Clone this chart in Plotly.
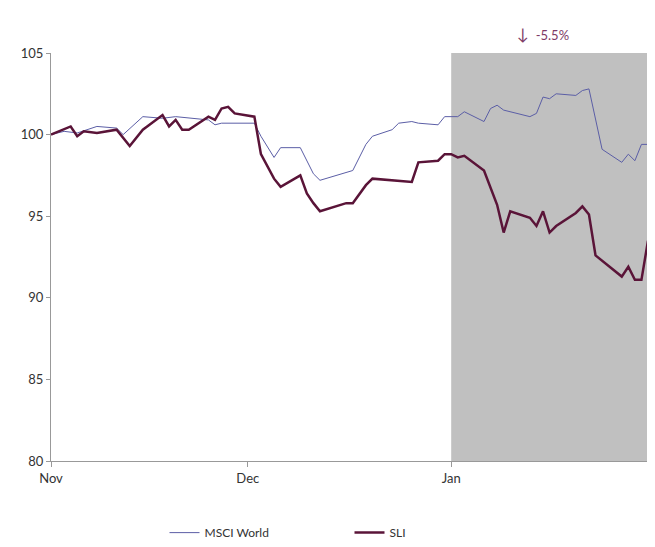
import plotly.graph_objects as go

# MSCI World (rebased to 100)
msci_dates = ['2013-11-01', '2013-11-03', '2013-11-05', '2013-11-08', '2013-11-11', '2013-11-12',
              '2013-11-15', '2013-11-18', '2013-11-20', '2013-11-25', '2013-11-26', '2013-11-27',
              '2013-12-02', '2013-12-03', '2013-12-05', '2013-12-06', '2013-12-09', '2013-12-11',
              '2013-12-12', '2013-12-16', '2013-12-17', '2013-12-19', '2013-12-20', '2013-12-23',
              '2013-12-24', '2013-12-26', '2013-12-27', '2013-12-30', '2013-12-31', '2014-01-02',
              '2014-01-03', '2014-01-06', '2014-01-07', '2014-01-08', '2014-01-09', '2014-01-13',
              '2014-01-14', '2014-01-15', '2014-01-16', '2014-01-17', '2014-01-20', '2014-01-21',
              '2014-01-22', '2014-01-24', '2014-01-27', '2014-01-28', '2014-01-29', '2014-01-30',
              '2014-01-31']
msci_vals = [100.0, 100.2, 100.1, 100.5, 100.4, 100.0,
             101.1, 101.0, 101.1, 100.9, 100.6, 100.7,
             100.7, 99.9, 98.6, 99.2, 99.2, 97.6,
             97.2, 97.7, 97.8, 99.4, 99.9, 100.3,
             100.7, 100.8, 100.7, 100.6, 101.1, 101.1,
             101.4, 100.8, 101.6, 101.8, 101.5, 101.1,
             101.3, 102.3, 102.2, 102.5, 102.4, 102.7,
             102.8, 99.1, 98.3, 98.8, 98.4, 99.4,
             99.4]

# SLI (rebased to 100)
sli_dates = ['2013-11-01', '2013-11-04', '2013-11-05', '2013-11-06', '2013-11-08', '2013-11-11',
             '2013-11-13', '2013-11-15', '2013-11-18', '2013-11-19', '2013-11-20', '2013-11-21',
             '2013-11-22', '2013-11-25', '2013-11-26', '2013-11-27', '2013-11-28', '2013-11-29',
             '2013-12-02', '2013-12-03', '2013-12-05', '2013-12-06', '2013-12-09', '2013-12-10',
             '2013-12-11', '2013-12-12', '2013-12-16', '2013-12-17', '2013-12-19', '2013-12-20',
             '2013-12-26', '2013-12-27', '2013-12-30', '2013-12-31', '2014-01-01', '2014-01-02',
             '2014-01-03', '2014-01-06', '2014-01-08', '2014-01-09', '2014-01-10', '2014-01-13',
             '2014-01-14', '2014-01-15', '2014-01-16', '2014-01-17', '2014-01-20', '2014-01-21',
             '2014-01-22', '2014-01-23', '2014-01-27', '2014-01-28', '2014-01-29', '2014-01-30',
             '2014-01-31']
sli_vals = [100.0, 100.5, 99.9, 100.2, 100.1, 100.3,
            99.3, 100.3, 101.2, 100.5, 100.9, 100.3,
            100.3, 101.1, 100.9, 101.6, 101.7, 101.3,
            101.1, 98.8, 97.3, 96.8, 97.5, 96.4,
            95.8, 95.3, 95.8, 95.8, 96.9, 97.3,
            97.1, 98.3, 98.4, 98.8, 98.8, 98.6,
            98.7, 97.8, 95.7, 94.0, 95.3, 94.9,
            94.4, 95.3, 94.0, 94.4, 95.2, 95.6,
            95.1, 92.6, 91.3, 91.9, 91.1, 91.1,
            93.5]

tick_dates = ['2013-11-01', '2013-12-01', '2014-01-01']
tick_labels = ['Nov', 'Dec', 'Jan']

fig = go.Figure()

# grey box for January
fig.add_vrect(x0='2014-01-01', x1='2014-01-31', fillcolor='#c0c0c0', opacity=1,
              line_width=0, layer='below')

fig.add_trace(go.Scatter(x=msci_dates, y=msci_vals, mode='lines', name='MSCI World',
                         line=dict(color='#5b5ea6', width=1)))
fig.add_trace(go.Scatter(x=sli_dates, y=sli_vals, mode='lines', name='SLI',
                         line=dict(color='#5a1438', width=2.5)))

fig.add_annotation(x='2014-01-15', y=1.075, yref='paper', xref='x', showarrow=False,
                   text='<span style="font-size:16px">&#8595;</span>  -5.5%',
                   font=dict(color='#7d3a66', size=13, family='Lato'), xanchor='center')

fig.update_layout(
    width=655, height=547,
    margin=dict(l=43, r=15, t=45, b=94, autoexpand=False),
    plot_bgcolor='white', paper_bgcolor='white',
    font=dict(family='Lato', size=13, color='#333333'),
    showlegend=True,
    legend=dict(orientation='h', x=0.5, xanchor='center', y=-0.14, yanchor='top',
                font=dict(size=12), entrywidthmode='pixels', entrywidth=140),
    xaxis=dict(range=['2013-11-01', '2014-01-31'], tickvals=tick_dates, ticktext=tick_labels,
               showgrid=False, showline=True, linecolor='#999999', ticks='outside',
               ticklen=5, tickcolor='#999999', zeroline=False, automargin=False),
    yaxis=dict(range=[80, 105], dtick=5, showgrid=False, showline=True, linecolor='#999999',
               ticks='outside', ticklen=4, tickcolor='#999999', zeroline=False,
               automargin=False),
)

fig.write_html("out.html")
